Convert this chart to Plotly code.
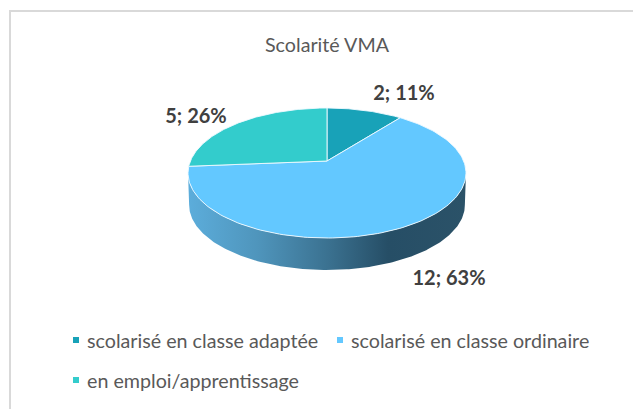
import numpy as np
import plotly.graph_objects as go

title = "Scolarité VMA"
categories = ["scolarisé en classe adaptée", "scolarisé en classe ordinaire", "en emploi/apprentissage"]
values = [2, 12, 5]
colors = ["#18A2B8", "#63C8FF", "#33CCCC"]
rim_stops = [(0.0, "#5CADDB"), (0.25, "#4F95BC"), (0.5, "#3B7291"), (0.72, "#264E66"), (1.0, "#2B5268")]
label_pos = [(404, 95), (449, 280), (196, 118)]
legend_pos = [(76, 340), (340, 340), (76, 380)]

CX, CY, A, B, K, DEPTH = 327, 161, 136.6, 62.8, 0.1846, 32
FONT = "Lato"


def project(theta, scale=1.0, dy=0.0):
    X, Y = np.sin(theta), np.cos(theta)
    w = 1 + K * Y
    return CX + scale * A * X / w, CY + dy - B * Y / w


fig = go.Figure()

# chart frame
fig.add_trace(go.Scatter(x=[10, 10, 633], y=[409, 11, 11], mode="lines",
                         line=dict(color="#D9D9D9", width=2), hoverinfo="skip", showlegend=False))

# side wall (front half of the pie)
th = np.linspace(np.pi * 0.5 + 0.18, np.pi * 1.5 - 0.18, 200)
tx, ty = project(th)
bx, by = project(th, 0.992, DEPTH)
fig.add_trace(go.Scatter(
    x=np.r_[tx, bx[::-1], tx[0]], y=np.r_[ty, by[::-1], ty[0]], mode="lines",
    line=dict(width=0), fill="toself",
    fillgradient=dict(type="horizontal", colorscale=[list(s) for s in rim_stops]),
    hoverinfo="skip", showlegend=False))

# top-face slices, clockwise from twelve o'clock
total = sum(values)
edges = np.r_[0, np.cumsum(values)] / total * 2 * np.pi
for i, v in enumerate(values):
    t = np.linspace(edges[i], edges[i + 1], 160)
    x, y = project(t)
    fig.add_trace(go.Scatter(
        x=np.r_[CX, x, CX], y=np.r_[CY, y, CY], mode="lines", fill="toself",
        fillcolor=colors[i], line=dict(color="rgba(240,250,255,0.9)", width=1),
        name=categories[i], hoverinfo="skip", showlegend=False))

# data labels
labels = [f"{v}; {round(100 * v / total)}%" for v in values]
fig.add_trace(go.Scatter(
    x=[p[0] for p in label_pos], y=[p[1] for p in label_pos], mode="text", text=labels,
    textposition="middle center", textfont=dict(family=FONT, size=20, color="#404040", weight="bold"),
    hoverinfo="skip", showlegend=False))

# legend
fig.add_trace(go.Scatter(
    x=[p[0] for p in legend_pos], y=[p[1] for p in legend_pos], mode="markers",
    marker=dict(symbol="square", size=6, color=colors), hoverinfo="skip", showlegend=False))
for (lx, ly), c in zip(legend_pos, categories):
    fig.add_annotation(x=lx + 11, y=ly, text=c, showarrow=False, xanchor="left", yanchor="middle",
                       xshift=-2, font=dict(family=FONT, size=19.7, color="#595959"))

fig.update_layout(
    width=633, height=409, margin=dict(l=0, r=0, t=0, b=0),
    paper_bgcolor="white", plot_bgcolor="white", showlegend=False,
    xaxis=dict(range=[0, 633], visible=False, fixedrange=True, domain=[0, 1]),
    yaxis=dict(range=[409, 0], visible=False, fixedrange=True, domain=[0, 1]),
    annotations=list(fig.layout.annotations) + [dict(
        x=327, y=44, text=title, showarrow=False, xanchor="center", yanchor="middle",
        font=dict(family=FONT, size=19.7, color="#595959"))],
)

fig.write_html("out.html", config={"displayModeBar": False},
               post_script="document.body.style.margin='0';document.body.style.overflow='hidden';")
